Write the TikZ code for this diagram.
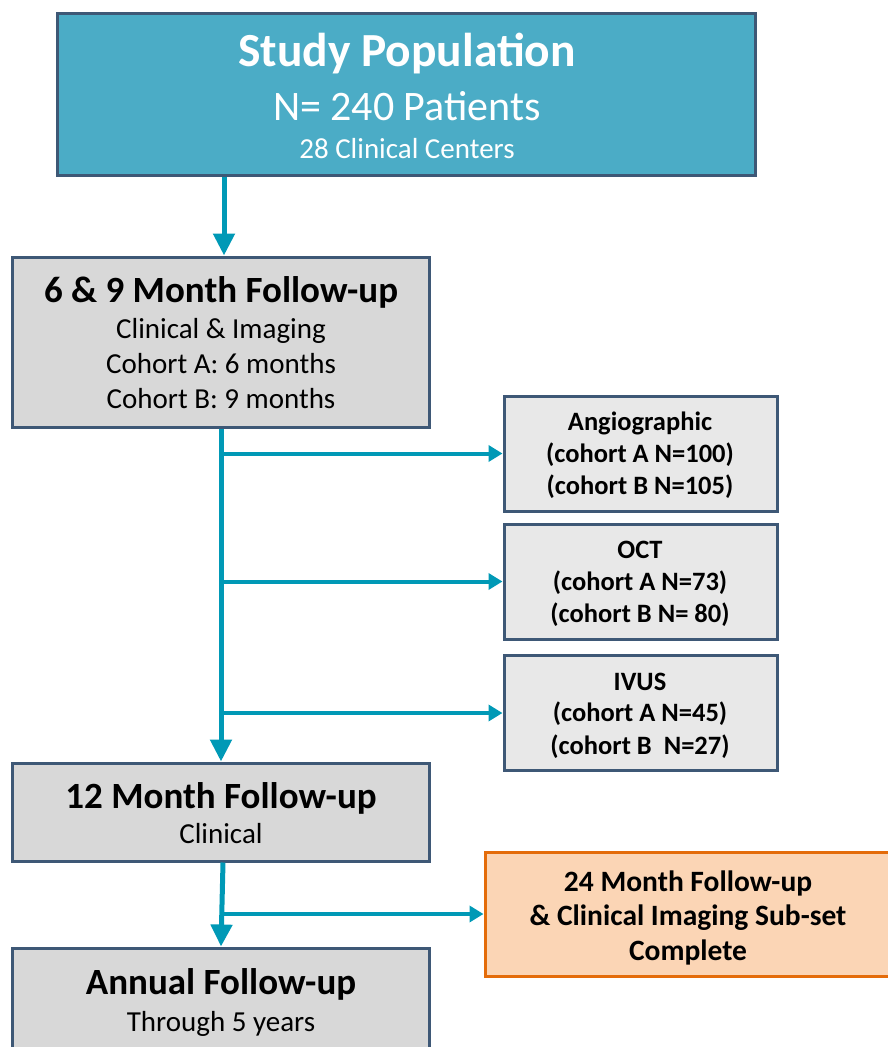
\documentclass[tikz,border=0pt]{standalone}
\usepackage{fontspec}
\setmainfont{Carlito}
\usetikzlibrary{arrows.meta}
\definecolor{popblue}{RGB}{75,172,198}
\definecolor{edgeslate}{RGB}{62,88,118}
\definecolor{boxgray}{RGB}{216,216,216}
\definecolor{palegray}{RGB}{232,232,232}
\definecolor{flowteal}{RGB}{0,153,182}
\definecolor{subfill}{RGB}{251,213,181}
\definecolor{subedge}{RGB}{228,108,10}
\newcommand{\fs}[2]{\fontsize{#1}{#2}\selectfont}

\begin{document}
\begin{tikzpicture}[x=1pt,y=-1pt,
	box/.style={draw=edgeslate, line width=3pt, fill=boxgray, inner sep=0pt},
	txt/.style={anchor=base, inner sep=0pt},
	flow/.style={draw=flowteal, line width=5pt, -{Triangle[width=21pt,length=22pt]}},
	branch/.style={draw=flowteal, line width=4pt, -{Triangle[width=16pt,length=14pt]}}]
	\useasboundingbox (0,0) rectangle (888,1047);
	\node[box, fill=popblue, minimum width=698pt, minimum height=162pt] (pop) at (406,94) {};
	\node[box, minimum width=417pt, minimum height=170pt] (fu69) at (221,342) {};
	\node[box, fill=palegray, minimum width=273pt, minimum height=115pt] (angio) at (640.5,453.5) {};
	\node[box, fill=palegray, minimum width=273pt, minimum height=115pt] (oct) at (640.5,581.5) {};
	\node[box, fill=palegray, minimum width=273pt, minimum height=115pt] (ivus) at (640.5,713) {};
	\node[box, minimum width=417pt, minimum height=98pt] (fu12) at (221,812) {};
	\node[box, fill=subfill, draw=subedge, minimum width=408pt, minimum height=124pt] (sub24) at (689,914) {};
	\node[box, minimum width=417pt, minimum height=120pt] (annual) at (221,1008) {};

	\node[txt, text=white, font=\fs{47.5}{56}\bfseries] (popA) at (407,66) {Study Population};
	\node[txt, text=white, font=\fs{42}{50}] (popB) at (407,120) {N= 240 Patients};
	\node[txt, text=white, font=\fs{29}{35}] (popC) at (407,158) {28 Clinical Centers};

	\node[txt, font=\fs{37}{45}\bfseries] (fu69A) at (221,302) {6 \& 9 Month Follow-up};
	\node[txt, font=\fs{29}{35}] (fu69B) at (221,338) {Clinical \& Imaging};
	\node[txt, font=\fs{29}{35}] (fu69C) at (221,373) {Cohort A: 6 months};
	\node[txt, font=\fs{29}{35}] (fu69D) at (221,408) {Cohort B: 9 months};

	\node[txt, font=\fs{26.5}{32}\bfseries] (angioA) at (640,430) {Angiographic};
	\node[txt, font=\fs{26.5}{32}\bfseries] (angioB) at (640,462) {(cohort A N=100)};
	\node[txt, font=\fs{26.5}{32}\bfseries] (angioC) at (640,494) {(cohort B N=105)};

	\node[txt, font=\fs{26.5}{32}\bfseries] (octA) at (640,558) {OCT};
	\node[txt, font=\fs{26.5}{32}\bfseries] (octB) at (640,590) {(cohort A N=73)};
	\node[txt, font=\fs{26.5}{32}\bfseries] (octC) at (640,622) {(cohort B N= 80)};

	\node[txt, font=\fs{26.5}{32}\bfseries] (ivusA) at (640,690) {IVUS};
	\node[txt, font=\fs{26.5}{32}\bfseries] (ivusB) at (640,721) {(cohort A N=45)};
	\node[txt, font=\fs{26.5}{32}\bfseries] (ivusC) at (640,754) {(cohort B\ \ N=27)};

	\node[txt, font=\fs{37}{45}\bfseries] (fu12A) at (221,808) {12 Month Follow-up};
	\node[txt, font=\fs{29}{35}] (fu12B) at (221,843) {Clinical};

	\node[txt, font=\fs{29.5}{35}\bfseries] (sub24A) at (688,891) {24 Month Follow-up};
	\node[txt, font=\fs{29.5}{35}\bfseries] (sub24B) at (688,925) {\& Clinical Imaging Sub-set};
	\node[txt, font=\fs{29.5}{35}\bfseries] (sub24C) at (688,960) {Complete};

	\node[txt, font=\fs{37}{45}\bfseries] (annualA) at (221,994) {Annual Follow-up};
	\node[txt, font=\fs{29}{35}] (annualB) at (221,1031) {Through 5 years};

	\draw[flow] ([xshift=3pt]fu69.north |- pop.south) -- ([xshift=3pt]fu69.north);
	\draw[branch] (fu69.south |- angio.west) -- (angio.west);
	\draw[branch] (fu69.south |- oct.west) -- (oct.west);
	\draw[branch] (fu69.south |- ivus.west) -- (ivus.west);
	\draw[flow] (fu69.south) -- (fu12.north);
	\draw[branch] ([xshift=2pt]fu12.south |- sub24.west) -- (sub24.west);
	\draw[flow] ([xshift=2pt]fu12.south) -- (annual.north);
\end{tikzpicture}
\end{document}
